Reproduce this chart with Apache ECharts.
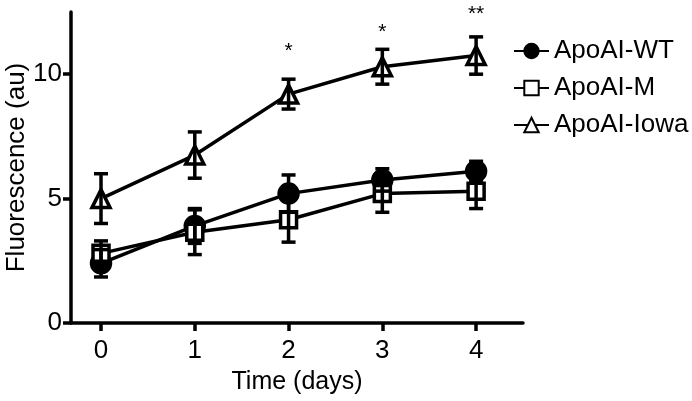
<!DOCTYPE html>
<html>
<head>
<meta charset="utf-8">
<script src="https://cdn.jsdelivr.net/npm/echarts@6/dist/echarts.min.js"></script>
<style>html,body{margin:0;padding:0;background:#fff;}#c{width:692px;height:401px;}</style>
</head>
<body>
<div id="c"></div>
<script>
const days = [0, 1, 2, 3, 4];
const xTicks = [0, 1, 2, 3, 4];
const yTicks = [0, 5, 10];
const wtMean = [2.4, 3.9, 5.2, 5.75, 6.1];
const wtErr = [0.55, 0.7, 0.75, 0.45, 0.4];
const mMean = [2.8, 3.65, 4.15, 5.2, 5.3];
const mErr = [0.5, 0.9, 0.9, 0.75, 0.7];
const iowaMean = [5.0, 6.75, 9.2, 10.3, 10.75];
const iowaErr = [1.0, 0.93, 0.6, 0.7, 0.75];
const sigDays = [2, 3, 4];
const sigY = [10.92, 11.67, 12.42];
const sigText = ['*', '*', '**'];

const FONT = 'Liberation Sans, Arial, sans-serif';

function pts(mean) { return days.map((d, i) => [d, mean[i]]); }
function errData(mean, err) { return days.map((d, i) => [d, mean[i] - err[i], mean[i] + err[i]]); }

function errSeries(name, mean, err) {
  return {
    type: 'custom',
    name: name + '-err',
    z: 5,
    silent: true,
    clip: false,
    data: errData(mean, err),
    renderItem: function (params, api) {
      const x = api.value(0);
      const lo = api.coord([x, api.value(1)]);
      const hi = api.coord([x, api.value(2)]);
      const hw = 7;
      const st = { stroke: '#000', lineWidth: 3.5, fill: 'none' };
      return {
        type: 'group',
        children: [
          { type: 'line', shape: { x1: lo[0], y1: lo[1], x2: hi[0], y2: hi[1] }, style: st },
          { type: 'line', shape: { x1: lo[0] - hw, y1: lo[1], x2: lo[0] + hw, y2: lo[1] }, style: st },
          { type: 'line', shape: { x1: hi[0] - hw, y1: hi[1], x2: hi[0] + hw, y2: hi[1] }, style: st }
        ]
      };
    }
  };
}

function lineSeries(name, mean, symbol, size, fill) {
  return {
    type: 'line',
    name: name,
    data: pts(mean),
    symbol: symbol,
    symbolSize: size,
    showAllSymbol: true,
    clip: false,
    z: 3,
    lineStyle: { color: '#000', width: 3.5 },
    itemStyle: { color: fill, borderColor: '#000', borderWidth: 3.5 },
    emphasis: { disabled: true }
  };
}

const chart = echarts.init(document.getElementById('c'), null, { renderer: 'canvas' });
chart.setOption({
  animation: false,
  backgroundColor: '#fff',
  grid: { left: 71, right: 169, top: 12, bottom: 78, containLabel: false, outerBoundsMode: 'none' },
  xAxis: {
    type: 'value',
    min: -0.32,
    max: 4.5,
    name: 'Time (days)',
    nameLocation: 'middle',
    nameGap: 47,
    nameMoveOverlap: false,
    nameTextStyle: { fontSize: 25, color: '#000', fontFamily: FONT },
    axisLine: { show: true, onZero: false, lineStyle: { color: '#000', width: 3.5 } },
    axisTick: { show: true, length: 8, lineStyle: { color: '#000', width: 3.5 }, customValues: xTicks },
    axisLabel: { fontSize: 26, color: '#000', fontFamily: FONT, margin: 15, customValues: xTicks },
    splitLine: { show: false }
  },
  yAxis: {
    type: 'value',
    min: 0,
    max: 12.5,
    name: 'Fluorescence (au)',
    nameLocation: 'middle',
    nameGap: 41,
    nameMoveOverlap: false,
    nameTextStyle: { fontSize: 26, color: '#000', fontFamily: FONT },
    axisLine: { show: true, onZero: false, lineStyle: { color: '#000', width: 3.5 } },
    axisTick: { show: true, length: 8, lineStyle: { color: '#000', width: 3.5 }, customValues: yTicks },
    axisLabel: { fontSize: 26, color: '#000', fontFamily: FONT, margin: 9, customValues: yTicks },
    splitLine: { show: false }
  },
  legend: {
    orient: 'vertical',
    left: 508,
    top: 33,
    itemWidth: 35,
    itemHeight: 18,
    itemGap: 11,
    data: ['ApoAI-WT', 'ApoAI-M', 'ApoAI-Iowa'],
    textStyle: { fontSize: 26, color: '#000', fontFamily: FONT, lineHeight: 26 },
    selectedMode: false
  },
  series: [
    lineSeries('ApoAI-WT', wtMean, 'circle', 19, '#000'),
    lineSeries('ApoAI-M', mMean, 'rect', 16, '#fff'),
    lineSeries('ApoAI-Iowa', iowaMean, 'triangle', 18, '#fff'),
    errSeries('ApoAI-WT', wtMean, wtErr),
    errSeries('ApoAI-M', mMean, mErr),
    errSeries('ApoAI-Iowa', iowaMean, iowaErr),
    {
      type: 'custom',
      name: 'sig',
      silent: true,
      clip: false,
      z: 6,
      data: sigDays.map((d, i) => [d, sigY[i], i]),
      renderItem: function (params, api) {
        const p = api.coord([api.value(0), api.value(1)]);
        return {
          type: 'text',
          x: p[0],
          y: p[1],
          style: {
            text: sigText[api.value(2)],
            fontSize: 21,
            fontFamily: FONT,
            fill: '#000',
            align: 'center',
            verticalAlign: 'middle'
          }
        };
      }
    }
  ]
});
</script>
</body>
</html>
